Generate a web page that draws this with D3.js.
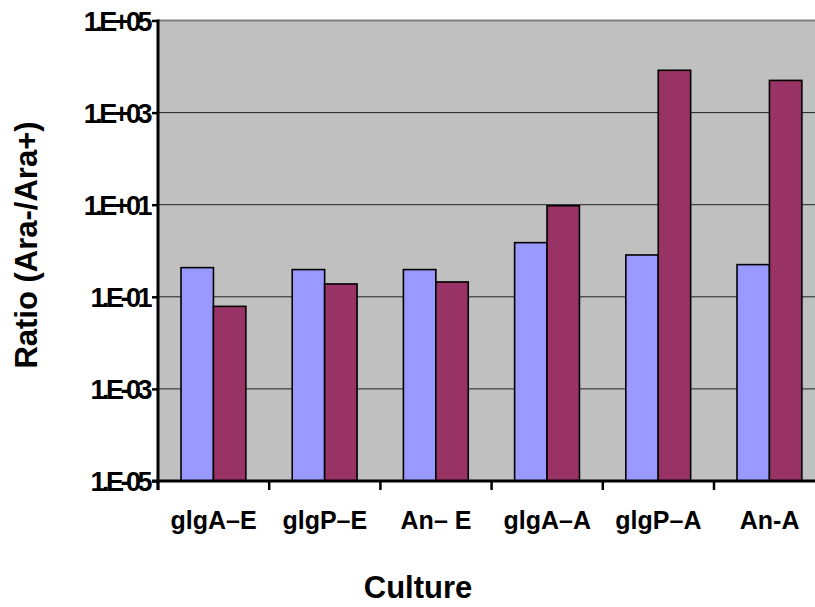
<!DOCTYPE html>
<html>
<head>
<meta charset="utf-8">
<script src="https://cdnjs.cloudflare.com/ajax/libs/d3/7.8.5/d3.min.js"></script>
<style>
  html, body { margin: 0; padding: 0; background: #fff; }
  svg { display: block; }
  text { font-family: "Liberation Sans", Arial, sans-serif; font-weight: bold; fill: #000; }
</style>
</head>
<body>
<svg id="chart" width="815" height="607"></svg>
<script>
// Cultures along the x axis
const categories = ["glgA\u2013E", "glgP\u2013E", "An\u2013 E", "glgA\u2013A", "glgP\u2013A", "An-A"];
// Two series per culture
const seriesNames = ["s1", "s2"];
const series1 = [0.43, 0.39, 0.39, 1.5, 0.81, 0.50];
const series2 = [0.062, 0.19, 0.21, 9.5, 8300, 5000];
// Log axis ticks and their labels
const tickValues = [1e5, 1e3, 1e1, 1e-1, 1e-3, 1e-5];
const tickLabels = ["1.E+05", "1.E+03", "1.E+01", "1.E-01", "1.E-03", "1.E-05"];

const colors = { s1: "#9999FF", s2: "#993366" };

const svg = d3.select("#chart");
const plotLeft = 158, plotTop = 20.5, plotBottom = 481;
const bandW = 111.2;

const x = d3.scaleBand().domain(categories).range([plotLeft, plotLeft + bandW * categories.length]);
const xs = d3.scaleBand().domain(seriesNames).range([bandW * 0.207, bandW * 0.79]);
const y = d3.scaleLog().domain([1e-5, 1e5]).range([plotBottom, plotTop]);

// plot area
svg.append("rect")
  .attr("x", plotLeft).attr("y", plotTop)
  .attr("width", 815 - plotLeft + 20).attr("height", plotBottom - plotTop)
  .attr("fill", "#C0C0C0");
svg.append("line")
  .attr("x1", plotLeft).attr("x2", 830)
  .attr("y1", plotTop).attr("y2", plotTop)
  .attr("stroke", "#808080").attr("stroke-width", 2);

// gridlines
svg.append("g")
  .selectAll("line")
  .data(tickValues.slice(1, -1))
  .join("line")
  .attr("x1", plotLeft).attr("x2", 830)
  .attr("y1", d => y(d)).attr("y2", d => y(d))
  .attr("stroke", "#222").attr("stroke-width", 1);

// bars
const rows = categories.map((c, i) => ({ c, vals: [series1[i], series2[i]] }));
const groups = svg.append("g").selectAll("g")
  .data(rows).join("g")
  .attr("transform", d => `translate(${x(d.c)},0)`);
groups.selectAll("rect")
  .data(d => d.vals.map((v, j) => ({ key: seriesNames[j], v })))
  .join("rect")
  .attr("x", d => xs(d.key))
  .attr("width", xs.bandwidth())
  .attr("y", d => y(d.v))
  .attr("height", d => y(1e-5) - y(d.v))
  .attr("fill", d => colors[d.key])
  .attr("stroke", "#000")
  .attr("stroke-width", 1.6);

// y axis
const yAxis = svg.append("g").attr("transform", `translate(${plotLeft},0)`)
  .call(d3.axisLeft(y).tickValues(tickValues).tickFormat((d, i) => tickLabels[i]).tickSize(6).tickPadding(3));
yAxis.select(".domain").remove();
yAxis.selectAll(".tick line").attr("stroke", "#000").attr("stroke-width", 2.5);
yAxis.selectAll(".tick text")
  .attr("font-size", 27)
  .attr("letter-spacing", "-3.5px")
  .attr("dy", "0.36em")
  .style("font-family", "'Liberation Sans', Arial, sans-serif")
  .style("font-weight", "bold");
svg.append("line")
  .attr("x1", plotLeft).attr("x2", plotLeft)
  .attr("y1", plotTop - 1).attr("y2", plotBottom + 9)
  .attr("stroke", "#000").attr("stroke-width", 3);

// x axis
svg.append("line")
  .attr("x1", plotLeft - 6).attr("x2", 830)
  .attr("y1", plotBottom).attr("y2", plotBottom)
  .attr("stroke", "#000").attr("stroke-width", 3);
svg.append("g").selectAll("line")
  .data(categories)
  .join("line")
  .attr("x1", d => x(d)).attr("x2", d => x(d))
  .attr("y1", plotBottom).attr("y2", plotBottom + 9)
  .attr("stroke", "#000").attr("stroke-width", 2.5);
svg.append("g").selectAll("text")
  .data(categories)
  .join("text")
  .attr("x", d => x(d) + x.bandwidth() / 2)
  .attr("y", 529)
  .attr("text-anchor", "middle")
  .attr("font-size", 25)
  .text(d => d);

// axis titles
svg.append("text")
  .attr("x", 418).attr("y", 598)
  .attr("text-anchor", "middle")
  .attr("font-size", 31)
  .text("Culture");
svg.append("text")
  .attr("transform", "translate(37,245) rotate(-90)")
  .attr("text-anchor", "middle")
  .attr("font-size", 31)
  .text("Ratio (Ara-/Ara+)");
</script>
</body>
</html>
